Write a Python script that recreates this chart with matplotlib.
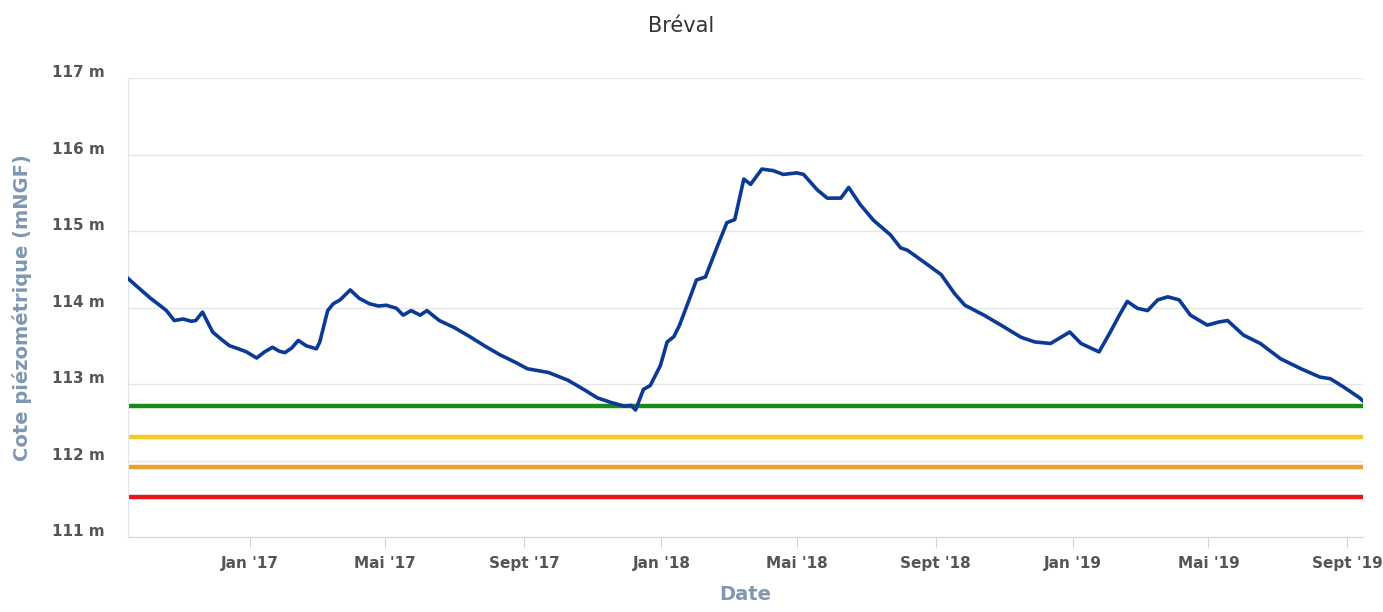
"""
Niveau piézométrique de Bréval (sept. 2016 - sept. 2019)
avec les seuils de vigilance / alerte / alerte renforcée / crise.
"""

import matplotlib
matplotlib.use("Agg")

import numpy as np
import pandas as pd
import matplotlib.pyplot as plt
import matplotlib.dates as mdates
import matplotlib.transforms as mtransforms

# --- données ---
dates = [
    "2016-09-15", "2016-09-21", "2016-09-28", "2016-10-05", "2016-10-13",
    "2016-10-19", "2016-10-26", "2016-11-03", "2016-11-10", "2016-11-14",
    "2016-11-20", "2016-11-29", "2016-12-07", "2016-12-14", "2016-12-22",
    "2016-12-29", "2017-01-07", "2017-01-14", "2017-01-21", "2017-01-27",
    "2017-02-01", "2017-02-07", "2017-02-13", "2017-02-20", "2017-03-01",
    "2017-03-04", "2017-03-11", "2017-03-16", "2017-03-22", "2017-03-31",
    "2017-04-08", "2017-04-17", "2017-04-25", "2017-05-02", "2017-05-11",
    "2017-05-17", "2017-05-24", "2017-06-01", "2017-06-07", "2017-06-18",
    "2017-07-01", "2017-07-15", "2017-07-28", "2017-08-11", "2017-08-25",
    "2017-09-04", "2017-09-23", "2017-10-10", "2017-10-24", "2017-11-05",
    "2017-11-17", "2017-11-29", "2017-12-05", "2017-12-09", "2017-12-16",
    "2017-12-22", "2017-12-31", "2018-01-06", "2018-01-12", "2018-01-17",
    "2018-01-26", "2018-02-01", "2018-02-09", "2018-02-19", "2018-02-28",
    "2018-03-07", "2018-03-15", "2018-03-21", "2018-03-31", "2018-04-10",
    "2018-04-19", "2018-05-01", "2018-05-07", "2018-05-19", "2018-05-28",
    "2018-06-09", "2018-06-16", "2018-06-26", "2018-07-08", "2018-07-23",
    "2018-08-01", "2018-08-07", "2018-08-25", "2018-09-06", "2018-09-18",
    "2018-09-27", "2018-10-14", "2018-10-29", "2018-11-16", "2018-11-28",
    "2018-12-12", "2018-12-29", "2019-01-08", "2019-01-24", "2019-02-03",
    "2019-02-11", "2019-02-18", "2019-02-27", "2019-03-08", "2019-03-17",
    "2019-03-26", "2019-04-05", "2019-04-15", "2019-04-30", "2019-05-10",
    "2019-05-18", "2019-06-01", "2019-06-16", "2019-07-04", "2019-07-22",
    "2019-08-08", "2019-08-17", "2019-08-29", "2019-09-12", "2019-09-15",
]
niveaux = [
    114.38, 114.30, 114.21, 114.12, 114.03,
    113.96, 113.83, 113.85, 113.82, 113.83,
    113.94, 113.68, 113.58, 113.50, 113.46,
    113.42, 113.34, 113.42, 113.48, 113.43,
    113.41, 113.47, 113.57, 113.50, 113.46,
    113.55, 113.96, 114.05, 114.10, 114.23,
    114.12, 114.05, 114.02, 114.03, 113.99,
    113.90, 113.96, 113.90, 113.96, 113.83,
    113.74, 113.62, 113.50, 113.38, 113.28,
    113.20, 113.15, 113.05, 112.93, 112.82,
    112.76, 112.71, 112.72, 112.66, 112.93,
    112.98, 113.24, 113.55, 113.62, 113.77,
    114.12, 114.36, 114.40, 114.78, 115.11,
    115.15, 115.68, 115.61, 115.81, 115.79,
    115.74, 115.76, 115.74, 115.54, 115.43,
    115.43, 115.57, 115.35, 115.14, 114.95,
    114.78, 114.75, 114.56, 114.43, 114.18,
    114.03, 113.90, 113.77, 113.61, 113.55,
    113.53, 113.68, 113.53, 113.42, 113.68,
    113.90, 114.08, 113.99, 113.96, 114.10,
    114.14, 114.10, 113.90, 113.77, 113.81,
    113.83, 113.64, 113.53, 113.33, 113.20,
    113.09, 113.07, 112.96, 112.82, 112.78,
]

# seuils (m NGF)
seuil_noms = ["vigilance", "alerte", "alerte renforcée", "crise"]
seuil_valeurs = [112.71, 112.31, 111.91, 111.52]
seuil_couleurs = ["#1b8a1b", "#f7c928", "#eea02c", "#e3171b"]

mois_fr = {1: "Jan", 5: "Mai", 9: "Sept"}


def format_date(x, pos=None):
    d = mdates.num2date(x)
    return f"{mois_fr.get(d.month, d.strftime('%b'))} '{d.strftime('%y')}"


def main():
    df = pd.DataFrame({"date": pd.to_datetime(dates), "niveau": niveaux})

    plt.rcParams["font.family"] = ["Liberation Sans Narrow", "DejaVu Sans"]

    fig = plt.figure(figsize=(13.83, 6.12), dpi=100)
    ax = fig.add_axes([0.0926, 0.1225, 0.8929, 0.75])

    for val, col in zip(seuil_valeurs, seuil_couleurs):
        ax.axhline(val, color=col, lw=3.2, zorder=2)

    ax.plot(df["date"], df["niveau"], color="#0b3a96", lw=2.6, zorder=3)

    ax.set_ylim(111, 117)
    ax.set_yticks(np.arange(111, 118, 1))
    ax.set_yticklabels([f"{v} m" for v in range(111, 118)])
    ax.set_xlim(pd.Timestamp("2016-09-15"), pd.Timestamp("2019-09-15"))

    ax.xaxis.set_major_locator(mdates.MonthLocator(bymonth=[1, 5, 9]))
    ax.xaxis.set_major_formatter(plt.FuncFormatter(format_date))

    ax.grid(axis="y", color="#e6e6e6", lw=1)
    ax.set_axisbelow(True)
    for s in ["top", "right"]:
        ax.spines[s].set_visible(False)
    ax.spines["left"].set_color("#e0e4ec")
    ax.spines["bottom"].set_color("#ccd6eb")

    ax.tick_params(axis="y", length=0, pad=17, labelsize=11,
                   labelcolor="#555555")
    ax.tick_params(axis="x", length=8, color="#ccd6eb", pad=6,
                   labelsize=11, labelcolor="#555555")
    for lab in ax.get_yticklabels() + ax.get_xticklabels():
        lab.set_fontweight("bold")
    # étiquettes y légèrement au-dessus des lignes (style Highcharts)
    off = mtransforms.ScaledTranslation(0, 5 / 72, fig.dpi_scale_trans)
    for lab in ax.get_yticklabels():
        lab.set_transform(lab.get_transform() + off)

    ax.set_ylabel("Cote piézométrique (mNGF)", color="#7f97b2",
                  fontsize=14, fontweight="bold", labelpad=14)
    ax.set_xlabel("Date", color="#7f97b2", fontsize=14,
                  fontweight="bold", labelpad=10)

    fig.text(0.4925, 0.958, "Bréval", ha="center", va="center",
             fontsize=15, color="#333333")

    fig.savefig("out.png", dpi=100)
    plt.close(fig)


if __name__ == "__main__":
    main()
